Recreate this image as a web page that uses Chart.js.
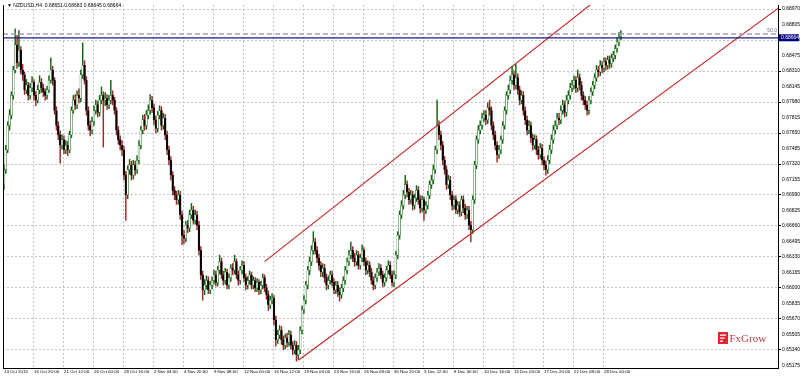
<!DOCTYPE html>
<html>
<head>
<meta charset="utf-8">
<script src="https://cdn.jsdelivr.net/npm/chart.js@4.4.1/dist/chart.umd.min.js"></script>
<style>
  html, body { margin: 0; padding: 0; background: #fff; }
  canvas { display: block; }
</style>
</head>
<body>
<canvas id="chart" width="800" height="376"></canvas>
<script>
// NZDUSD H4, prices in pips (6726 = 0.6726)
const firstOpen = 6710;
const closes = [
  6726,6747,6773,6784,6805,6832,6859,6840,6853,6832,
  6827,6811,6816,6805,6813,6819,6805,6800,6811,6819,
  6813,6809,6805,6811,6821,6832,6821,6789,6773,6763,
  6752,6758,6747,6752,6747,6763,6789,6800,6795,6805,
  6802,6827,6837,6821,6789,6773,6768,6777,6789,6795,
  6787,6800,6805,6800,6802,6795,6800,6805,6800,6789,
  6768,6758,6752,6747,6720,6699,6726,6731,6720,6731,
  6726,6736,6752,6768,6779,6773,6784,6789,6800,6792,
  6779,6770,6784,6789,6773,6781,6763,6747,6736,6720,
  6704,6699,6694,6699,6678,6656,6653,6667,6664,6678,
  6683,6672,6678,6667,6640,6614,6598,6603,6608,6598,
  6603,6608,6614,6606,6619,6628,6614,6608,6617,6603,
  6611,6621,6619,6628,6614,6608,6619,6624,6611,6603,
  6608,6614,6603,6608,6600,6606,6598,6603,6611,6600,
  6593,6582,6587,6589,6566,6545,6550,6555,6545,6539,
  6547,6542,6550,6539,6534,6539,6529,6534,6555,6577,
  6587,6603,6619,6628,6640,6649,6640,6632,6624,6617,
  6621,6611,6603,6608,6614,6606,6598,6603,6596,6593,
  6600,6608,6619,6628,6635,6640,6632,6628,6635,6624,
  6632,6640,6628,6619,6624,6617,6608,6603,6611,6617,
  6621,6614,6606,6611,6619,6624,6614,6606,6614,6635,
  6656,6678,6688,6699,6710,6702,6694,6699,6688,6696,
  6704,6694,6685,6694,6683,6688,6699,6710,6715,6726,
  6747,6773,6763,6752,6736,6726,6710,6715,6699,6688,
  6694,6683,6688,6681,6694,6685,6678,6683,6667,6662,
  6694,6731,6758,6768,6773,6781,6784,6779,6792,6789,
  6773,6763,6752,6742,6747,6758,6773,6789,6805,6811,
  6821,6827,6816,6824,6811,6800,6805,6789,6779,6768,
  6773,6760,6752,6758,6747,6742,6749,6736,6731,6726,
  6736,6747,6758,6768,6773,6781,6779,6789,6795,6787,
  6800,6805,6813,6816,6821,6813,6824,6816,6805,6800,
  6795,6789,6800,6809,6816,6824,6832,6830,6837,6834,
  6841,6837,6843,6839,6845,6848,6855,6862,6868,6870
];
const highs = [
  6731,6752,6777,6790,6809,6836,6876,6869,6874,6857,
  6838,6830,6822,6819,6818,6825,6822,6809,6816,6826,
  6823,6817,6812,6815,6826,6845,6836,6824,6793,6777,
  6767,6763,6762,6757,6756,6767,6793,6805,6806,6810,
  6812,6832,6861,6842,6825,6793,6778,6782,6794,6800,
  6799,6805,6814,6809,6808,6806,6805,6821,6810,6803,
  6792,6772,6762,6757,6751,6724,6730,6737,6735,6736,
  6735,6741,6757,6772,6784,6785,6789,6795,6806,6804,
  6796,6783,6788,6794,6793,6786,6785,6767,6751,6740,
  6724,6708,6703,6704,6703,6682,6661,6671,6672,6683,
  6690,6687,6683,6682,6671,6644,6618,6609,6613,6612,
  6607,6612,6619,6618,6623,6635,6632,6618,6621,6620,
  6615,6625,6626,6635,6631,6618,6623,6629,6628,6615,
  6612,6618,6617,6612,6611,6610,6609,6607,6615,6614,
  6604,6597,6591,6594,6592,6570,6555,6560,6559,6549,
  6551,6552,6555,6554,6543,6544,6543,6539,6559,6581,
  6592,6607,6623,6633,6645,6660,6653,6644,6636,6628,
  6626,6625,6615,6613,6618,6618,6610,6607,6607,6600,
  6604,6612,6623,6632,6640,6649,6644,6637,6640,6639,
  6636,6646,6643,6632,6629,6628,6621,6612,6615,6621,
  6626,6625,6618,6615,6623,6629,6628,6618,6618,6639,
  6660,6682,6693,6704,6720,6714,6706,6704,6703,6700,
  6709,6708,6698,6698,6697,6692,6703,6714,6720,6731,
  6751,6800,6778,6767,6756,6740,6730,6720,6719,6703,
  6698,6698,6692,6692,6698,6698,6689,6687,6687,6671,
  6698,6735,6762,6773,6778,6786,6789,6789,6797,6800,
  6793,6777,6767,6756,6752,6762,6777,6793,6809,6816,
  6826,6836,6831,6838,6828,6815,6810,6809,6793,6783,
  6778,6777,6764,6763,6762,6751,6754,6753,6740,6735,
  6741,6752,6763,6773,6778,6786,6786,6794,6800,6799,
  6805,6810,6818,6821,6826,6825,6832,6828,6820,6809,
  6804,6799,6804,6813,6820,6828,6837,6836,6842,6841,
  6845,6845,6847,6847,6849,6852,6859,6866,6872,6874
];
const lows = [
  6705,6722,6744,6768,6780,6801,6829,6834,6836,6828,
  6821,6806,6807,6800,6801,6809,6800,6794,6797,6807,
  6808,6804,6800,6801,6808,6818,6816,6785,6768,6758,
  6733,6748,6743,6743,6741,6744,6760,6786,6790,6791,
  6797,6798,6823,6817,6784,6768,6762,6764,6773,6785,
  6782,6783,6796,6750,6794,6790,6791,6796,6795,6785,
  6763,6753,6747,6741,6715,6672,6695,6721,6715,6716,
  6720,6722,6732,6748,6764,6768,6769,6780,6785,6787,
  6774,6765,6766,6780,6768,6769,6758,6742,6731,6715,
  6699,6694,6689,6689,6673,6646,6647,6649,6659,6660,
  6674,6668,6668,6662,6635,6609,6587,6593,6599,6594,
  6594,6599,6604,6602,6602,6615,6610,6603,6604,6599,
  6599,6607,6614,6615,6610,6603,6604,6615,6607,6598,
  6599,6604,6599,6599,6596,6596,6593,6594,6599,6596,
  6588,6576,6578,6583,6561,6538,6541,6546,6540,6534,
  6535,6537,6538,6535,6529,6530,6522,6524,6530,6551,
  6573,6583,6599,6614,6624,6636,6636,6627,6619,6612,
  6612,6606,6598,6599,6604,6602,6594,6594,6591,6586,
  6589,6596,6604,6615,6624,6631,6628,6623,6624,6620,
  6620,6628,6624,6614,6615,6612,6604,6598,6599,6607,
  6613,6610,6601,6602,6607,6615,6610,6602,6601,6610,
  6631,6652,6674,6684,6695,6697,6689,6690,6683,6684,
  6692,6689,6680,6681,6672,6679,6684,6695,6706,6711,
  6722,6743,6758,6747,6731,6721,6705,6706,6694,6683,
  6684,6679,6679,6676,6677,6680,6673,6674,6662,6649,
  6658,6690,6727,6754,6764,6769,6777,6774,6775,6784,
  6768,6758,6747,6734,6738,6743,6754,6769,6785,6801,
  6807,6817,6811,6812,6806,6795,6796,6784,6774,6763,
  6764,6755,6747,6748,6742,6737,6738,6731,6726,6720,
  6722,6732,6743,6754,6764,6769,6774,6775,6785,6782,
  6783,6796,6801,6809,6812,6808,6809,6811,6800,6795,
  6790,6784,6785,6796,6805,6812,6820,6825,6826,6829,
  6830,6832,6833,6834,6835,6841,6844,6851,6858,6864
];

// one time label every 16 bars
const xLabels = [
  '14 Oct 2015','16 Oct 20:00','21 Oct 12:00','26 Oct 00:00','28 Oct 16:00',
  '2 Nov 04:00','4 Nov 20:00','9 Nov 08:00','12 Nov 00:00','16 Nov 12:00',
  '19 Nov 04:00','23 Nov 16:00','26 Nov 08:00','30 Nov 20:00','3 Dec 12:00',
  '8 Dec 00:00','10 Dec 16:00','15 Dec 04:00','17 Dec 20:00','22 Dec 08:00',
  '28 Dec 00:00'
];
const barsPerLabel = 16;

const yTicks = [
  0.68970,0.68805,0.68640,0.68475,0.68310,0.68145,0.67980,0.67815,
  0.67650,0.67485,0.67320,0.67155,0.66990,0.66825,0.66660,0.66495,
  0.66330,0.66165,0.66000,0.65835,0.65670,0.65505,0.65340,0.65175
];

// drawn objects: channel, fibo 50% level, price line
const upperChannel = [[139, 0.6628], [320, 0.6913]];
const lowerChannel = [[157, 0.6523], [413, 0.6898]];
const fiboLevel = 0.68704;
const lastPrice = 0.68664;
const title = '\u25BC NZDUSD,H4  0.68651 0.68683 0.68645 0.68664';

const opens = closes.map((c, i) => i === 0 ? firstOpen : closes[i - 1]);
const isUp = closes.map((c, i) => c >= opens[i]);

Chart.defaults.font.family = '"Liberation Sans", Arial, sans-serif';

const overlay = {
  id: 'overlay',
  afterDraw(chart) {
    const { ctx, chartArea: a, scales: { y } } = chart;
    ctx.save();
    ctx.strokeStyle = '#000';
    ctx.lineWidth = 1;
    ctx.beginPath();
    ctx.moveTo(a.left + 0.5, a.top);
    ctx.lineTo(a.left + 0.5, a.bottom);
    ctx.stroke();

    ctx.font = '5px "Liberation Sans", "DejaVu Sans"';
    ctx.fillStyle = '#000';
    ctx.textBaseline = 'middle';
    ctx.fillText(title, a.left + 4, 6);

    const fy = y.getPixelForValue(fiboLevel);
    ctx.fillStyle = '#7a7098';
    ctx.textAlign = 'right';
    ctx.fillText('50.0', a.right - 1, fy - 3);

    const py = y.getPixelForValue(lastPrice);
    ctx.fillStyle = '#000080';
    ctx.fillRect(a.right + 1, py - 3.5, 20, 7);
    ctx.fillStyle = '#fff';
    ctx.textAlign = 'left';
    ctx.fillText(lastPrice.toFixed(5), a.right + 3, py);

    // FxGrow watermark
    ctx.fillStyle = '#e3262d';
    ctx.fillRect(718, 332, 10, 12);
    ctx.fillStyle = '#fff';
    ctx.fillRect(720, 334.5, 6, 1.3);
    ctx.fillRect(720, 337.5, 4.5, 1.3);
    ctx.fillRect(720, 340.5, 3, 1.3);
    ctx.fillStyle = '#b83a44';
    ctx.font = '11px "Liberation Serif", serif';
    ctx.textBaseline = 'alphabetic';
    ctx.fillText('FxGrow', 729.5, 342);
    ctx.restore();
  }
};

const lineSet = (pts, color, width, dash) => ({
  type: 'line',
  data: pts.map(p => ({ x: p[0], y: p[1] })),
  borderColor: color,
  borderWidth: width,
  borderDash: dash || [],
  pointRadius: 0,
  fill: false,
  order: 0
});

new Chart(document.getElementById('chart'), {
  type: 'bar',
  data: {
    datasets: [
      {
        data: closes.map((c, i) => ({ x: i, y: [lows[i] / 1e4, highs[i] / 1e4] })),
        backgroundColor: isUp.map(u => u ? '#116411' : '#9c2a2a'),
        barThickness: 0.8,
        grouped: false,
        order: 3
      },
      {
        data: closes.map((c, i) => ({ x: i, y: [opens[i] / 1e4, c / 1e4] })),
        backgroundColor: isUp.map(u => u ? '#ffffff' : '#000000'),
        borderColor: isUp.map(u => u ? '#116411' : '#3a1010'),
        borderWidth: 0.5,
        borderSkipped: false,
        barThickness: 1.8,
        grouped: false,
        order: 2
      },
      lineSet([[-0.5, fiboLevel], [413, fiboLevel]], '#a49cbc', 1.4, [5, 3]),
      lineSet([[-0.5, lastPrice], [413, lastPrice]], '#1a1a7a', 1.3),
      lineSet(upperChannel, '#c42020', 1.1),
      lineSet(lowerChannel, '#c42020', 1.1)
    ]
  },
  options: {
    responsive: false,
    animation: false,
    layout: { padding: { left: 3, top: 5, right: 0, bottom: 0 } },
    plugins: { legend: { display: false }, tooltip: { enabled: false } },
    scales: {
      x: {
        type: 'linear',
        min: -0.5,
        max: 412.8,
        offset: false,
        afterBuildTicks: s => { s.ticks = xLabels.map((_, k) => ({ value: k * barsPerLabel })); },
        afterFit: s => { s.height = 8; },
        ticks: {
          autoSkip: false,
          maxRotation: 0,
          minRotation: 0,
          align: 'start',
          padding: 1,
          color: '#000',
          font: { size: 4.4 },
          callback: (v, i) => xLabels[i]
        },
        grid: { color: '#c4c4c4', drawTicks: false, offset: false },
        border: { display: true, color: '#000', dash: [2, 2] }
      },
      y: {
        position: 'right',
        min: 0.65148,
        max: 0.69013,
        afterBuildTicks: s => { s.ticks = yTicks.map(v => ({ value: v })); },
        afterFit: s => { s.width = 22; },
        ticks: {
          padding: 1,
          color: '#000',
          font: { size: 5 },
          callback: v => Number(v).toFixed(5)
        },
        grid: {
          color: c => c.index % 2 === 0 ? '#c4c4c4' : 'rgba(0,0,0,0)',
          tickColor: c => c.index % 2 === 0 ? '#000' : 'rgba(0,0,0,0)',
          tickLength: 3
        },
        border: { display: true, color: '#000', dash: [2, 2] }
      }
    }
  },
  plugins: [overlay]
});
</script>
</body>
</html>
